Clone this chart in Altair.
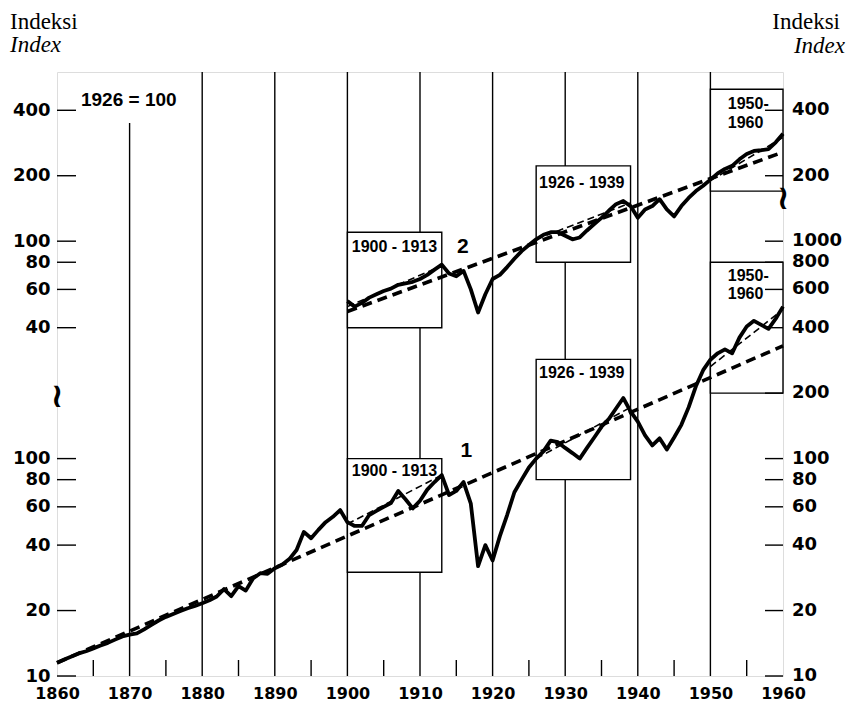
import altair as alt
import pandas as pd

# ---------------- data ----------------
years1 = list(range(1860, 1961))
index1 = [11.5, 11.9, 12.3, 12.7, 13.0, 13.4, 13.8, 14.2, 14.7, 15.2,
          15.5, 15.7, 16.4, 17.2, 18.0, 18.7, 19.3, 19.9, 20.5, 21.0,
          21.6, 22.3, 23.2, 25.1, 23.3, 25.9, 24.7, 28.1, 29.7, 29.5,
          31.3, 32.5, 34.5, 38.0, 46.0, 43.0, 47.0, 51.0, 54.0, 58.0,
          51.0, 49.0, 49.0, 55.0, 57.5, 60.0, 62.5, 71.0, 65.0, 59.0,
          64.0, 72.0, 78.0, 84.0, 68.0, 71.0, 78.0, 62.0, 32.0, 40.0,
          34.0, 44.0, 55.0, 70.0, 80.0, 91.0, 100.0, 108.0, 121.0, 119.0,
          112.0, 106.0, 100.0, 112.0, 125.0, 140.0, 152.0, 170.0, 190.0, 165.0,
          148.0, 128.0, 115.0, 124.0, 110.0, 125.0, 143.0, 172.0, 215.0, 255.0,
          285.0, 305.0, 318.0, 305.0, 360.0, 405.0, 430.0, 412.0, 395.0, 440.0,
          500.0]
years2 = list(range(1900, 1961))
index2 = [53, 50, 52, 55, 57, 59, 60.5, 63, 64, 65,
          67, 70, 74, 78, 71, 69, 73, 60, 47, 57,
          67, 70, 76, 83, 90, 96, 102, 107, 110, 110,
          106, 102, 104, 112, 120, 128, 138, 148, 153, 145,
          128, 140, 145, 156, 140, 130, 145, 158, 170, 180,
          192, 205, 215, 222, 238, 252, 260, 262, 265, 285,
          312]
SHIFT2 = 10  # upper panel (series 2) is drawn one decade higher

trend1_years = [1860, 1960]
trend1_vals = [11.5, 330]
trend2_years = [1900, 1960]
trend2_vals = [47.5, 257]

sub_start = [1900, 1926, 1950]
sub_end = [1913, 1939, 1960]
sub1_from = [50, 100, 265]
sub1_to = [84, 172, 485]
sub2_from = [50, 102, 190]
sub2_to = [77, 150, 300]

box_start = [1900, 1926, 1950]
box_end = [1913, 1939, 1960]
box1_lo = [30, 80, 200]
box1_hi = [100, 286, 800]
box2_lo = [40, 80, 170]
box2_hi = [110, 222, 500]

grid_years = [1880, 1890, 1900, 1910, 1920, 1930, 1940, 1950]
mid_years = [1865, 1875, 1885, 1895, 1905, 1915, 1925, 1935, 1945, 1955]
decades = list(range(1860, 1961, 10))
left_ticks = [10, 20, 40, 60, 80, 100, 400, 600, 800, 1000, 2000, 4000]
right_ticks = [10, 20, 40, 60, 80, 100, 200, 400, 600, 800, 1000, 2000, 4000]
right_labels = ["10", "20", "40", "60", "80", "100", "200", "400", "600", "800", "1000", "200", "400"]

box_label_text = ["1900 - 1913", "1926 - 1939", "1950-", "1960",
                  "1900 - 1913", "1926 - 1939", "1950-", "1960"]
box_label_year = [1900.6, 1926.4, 1952.4, 1952.4, 1900.6, 1926.4, 1952.4, 1952.4]
box_label_val = [88, 247, 692, 570, 944, 1858, 4266, 3510]

# ---------------- tables ----------------
s1 = pd.DataFrame({"year": years1, "v": index1})
s2 = pd.DataFrame({"year": years2, "v": [x * SHIFT2 for x in index2]})
series = pd.concat([s1.assign(s="1"), s2.assign(s="2")])

trends = pd.concat([
    pd.DataFrame({"year": trend1_years, "v": trend1_vals, "s": "1"}),
    pd.DataFrame({"year": trend2_years, "v": [x * SHIFT2 for x in trend2_vals], "s": "2"}),
])

seg_rows = []
for i in range(3):
    seg_rows.append({"id": f"a{i}", "year": sub_start[i], "v": sub1_from[i]})
    seg_rows.append({"id": f"a{i}", "year": sub_end[i], "v": sub1_to[i]})
    seg_rows.append({"id": f"b{i}", "year": sub_start[i], "v": sub2_from[i] * SHIFT2})
    seg_rows.append({"id": f"b{i}", "year": sub_end[i], "v": sub2_to[i] * SHIFT2})
segs = pd.DataFrame(seg_rows)

box_rows = []
for i in range(3):
    box_rows.append({"year": box_start[i], "x2": box_end[i], "v": box1_lo[i], "hi": box1_hi[i]})
    box_rows.append({"year": box_start[i], "x2": box_end[i], "v": box2_lo[i] * SHIFT2, "hi": box2_hi[i] * SHIFT2})
boxes = pd.DataFrame(box_rows)

box_labels = pd.DataFrame({"year": box_label_year, "v": box_label_val, "t": box_label_text})
series_labels = pd.DataFrame({"year": [1916.4, 1915.9], "v": [108, 937], "t": ["1", "2"]})
base_label = pd.DataFrame({"year": [1863.3], "v": [4467], "t": ["1926 = 100"]})
breaks = pd.DataFrame({"year": [1860, 1960], "v": [193, 1560], "t": ["≀", "≀"]})
grid70 = pd.DataFrame({"year": [1870], "v": [3500], "bottom": [10]})

YS = alt.Scale(type="log", domain=[10, 6000], nice=False)
XS = alt.Scale(domain=[1860, 1960], nice=False, zero=False)

x_axis = alt.Axis(values=decades, format="d", tickSize=0, domain=False, grid=False,
                  labelFont="DejaVu Sans", labelFontWeight="bold", labelFontSize=16,
                  labelPadding=9, labelColor="black", labelFlush=False,
                  labelOverlap=False, title=None)
left_axis = alt.Axis(values=left_ticks, tickSize=0, domain=False, grid=False,
                     labelExpr="datum.value >= 300 ? format(datum.value / 10, 'd') : format(datum.value, 'd')",
                     labelFont="DejaVu Sans", labelFontWeight="bold", labelFontSize=18,
                     labelPadding=7, labelColor="black", labelFlush=False,
                     labelOverlap=False, title=None)


def X(f="year"):
    return alt.X(f"{f}:Q", scale=XS, axis=x_axis)


def Yv(f="v"):
    return alt.Y(f"{f}:Q", scale=YS, axis=left_axis)


grid = alt.Chart(pd.DataFrame({"year": grid_years})).mark_rule(color="black", strokeWidth=1.4).encode(
    x=X(), y=alt.value(0), y2=alt.value(604))
grid1870 = alt.Chart(grid70).mark_rule(color="black", strokeWidth=1.4).encode(
    x=X(), y=Yv(), y2="bottom:Q")
mid_ticks = alt.Chart(pd.DataFrame({"year": mid_years})).mark_rule(color="black", strokeWidth=1.4).encode(
    x=X(), y=alt.value(604), y2=alt.value(588))

box_layer = alt.Chart(boxes).mark_rect(fill="white", stroke="black", strokeWidth=1.4).encode(
    x=X(), x2="x2:Q", y=Yv(), y2="hi:Q")

thin = alt.Chart(segs).mark_line(color="black", strokeWidth=1.6, strokeDash=[7, 4]).encode(
    x=X(), y=Yv(), detail="id:N")
trend_layer = alt.Chart(trends).mark_line(color="black", strokeWidth=3.6, strokeDash=[10, 6]).encode(
    x=X(), y=Yv(), detail="s:N")
series_layer = alt.Chart(series).mark_line(color="black", strokeWidth=3.8, strokeJoin="round").encode(
    x=X(), y=Yv(), detail="s:N")

lticks = alt.Chart(pd.DataFrame({"v": left_ticks})).mark_rule(color="black", strokeWidth=1.4).encode(
    y=Yv(), x=alt.value(0), x2=alt.value(19))
rticks = alt.Chart(pd.DataFrame({"v": right_ticks})).mark_rule(color="black", strokeWidth=1.4).encode(
    y=Yv(), x=alt.value(708), x2=alt.value(726))
rlabels = alt.Chart(pd.DataFrame({"v": right_ticks, "t": right_labels})).mark_text(
    font="DejaVu Sans", fontWeight="bold", fontSize=18, align="left", baseline="middle",
    color="black").encode(y=Yv(), x=alt.value(735), text="t:N")

box_text = alt.Chart(box_labels).mark_text(font="Liberation Sans", fontWeight="bold", fontSize=16,
                                            align="left", baseline="middle", color="black").encode(
    x=X(), y=Yv(), text="t:N")
ser_text = alt.Chart(series_labels).mark_text(font="Liberation Sans", fontWeight="bold", fontSize=21,
                                              align="center", baseline="middle", color="black").encode(
    x=X(), y=Yv(), text="t:N")
base_text = alt.Chart(base_label).mark_text(font="Liberation Sans", fontWeight="bold", fontSize=19,
                                            align="left", baseline="middle", color="black").encode(
    x=X(), y=Yv(), text="t:N")
break_text = alt.Chart(breaks).mark_text(font="DejaVu Sans", fontWeight="bold", fontSize=34,
                                         align="center", baseline="middle", color="black").encode(
    x=X(), y=Yv(), text="t:N")

t1 = alt.Chart(pd.DataFrame({"t": ["Indeksi"]})).mark_text(font="Liberation Serif", fontSize=23,
        align="left", baseline="alphabetic", color="black").encode(
    x=alt.value(-47), y=alt.value(-43), text="t:N")
t2 = alt.Chart(pd.DataFrame({"t": ["Index"]})).mark_text(font="Liberation Serif", fontSize=23, fontStyle="italic",
        align="left", baseline="alphabetic", color="black").encode(
    x=alt.value(-47), y=alt.value(-20), text="t:N")
t3 = alt.Chart(pd.DataFrame({"t": ["Indeksi"]})).mark_text(font="Liberation Serif", fontSize=23,
        align="right", baseline="alphabetic", color="black").encode(
    x=alt.value(783), y=alt.value(-43), text="t:N")
t4 = alt.Chart(pd.DataFrame({"t": ["Index"]})).mark_text(font="Liberation Serif", fontSize=23, fontStyle="italic",
        align="right", baseline="alphabetic", color="black").encode(
    x=alt.value(788), y=alt.value(-19), text="t:N")

chart = alt.layer(grid, grid1870, mid_ticks, box_layer, thin, trend_layer, series_layer,
                  lticks, rticks, rlabels, box_text, ser_text, base_text, break_text,
                  t1, t2, t3, t4).properties(
    width=726, height=604,
    autosize=alt.AutoSizeParams(type="none"),
    padding={"left": 49, "top": 64, "right": 64, "bottom": 25},
).configure_view(stroke="black", strokeWidth=2).configure(background="white")

chart.save("out.html", embed_options={"renderer": "svg", "actions": False})
